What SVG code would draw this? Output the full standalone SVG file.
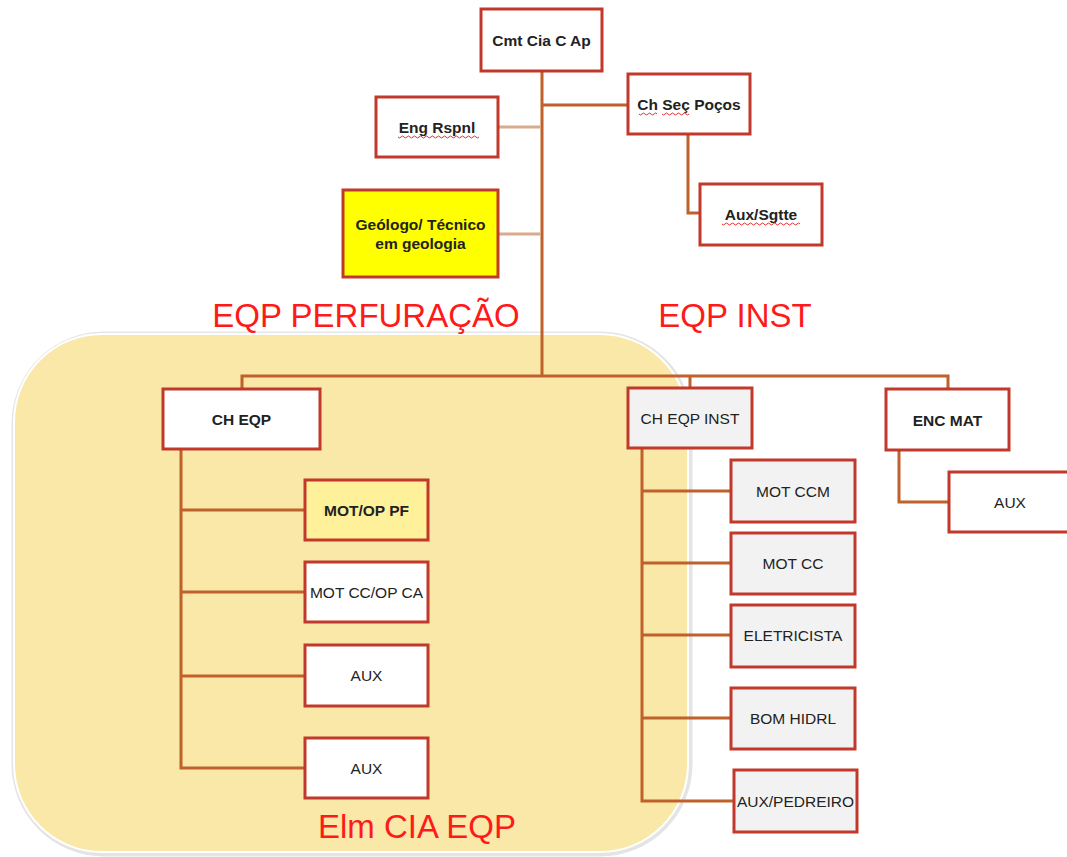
<svg xmlns="http://www.w3.org/2000/svg" width="1067" height="857" viewBox="0 0 1067 857">
<style>
.box{fill:#ffffff;stroke:#C0392B;stroke-width:3}
.gray{fill:#F2F2F2}
.t{font-family:"Liberation Sans",Arial,sans-serif;font-size:15.5px;fill:#222;text-anchor:middle}
.b{font-weight:bold}
.big{font-family:"Liberation Sans",Arial,sans-serif;font-size:33px;fill:#FF1A1A;text-anchor:middle}
.c{fill:none;stroke:#C0612B;stroke-width:3}
.lc{fill:none;stroke:#D9AB8C;stroke-width:3}
.w{fill:none;stroke:#E03030;stroke-width:1}
</style>
<rect width="1067" height="857" fill="#ffffff"/>
<g id="region">
<rect x="14" y="334" width="676" height="520" rx="90" ry="90" fill="none" stroke="#E4E4E4" stroke-width="5"/>
<rect x="14" y="334" width="674" height="518" rx="88" ry="88" fill="#F9E8A7" stroke="#ffffff" stroke-width="2"/>
</g>
<g id="labels">
<text class="big" x="366" y="327">EQP PERFURAÇÃO</text>
<text class="big" x="735" y="327">EQP INST</text>
<text class="big" x="417" y="838">Elm CIA EQP</text>
</g>
<g id="connectors">
<path class="c" d="M542 71 V376"/>
<path class="c" d="M542 105 H628"/>
<path class="lc" d="M498 127 H541"/>
<path class="lc" d="M498 234 H541"/>
<path class="c" d="M688 134 V213 H700"/>
<path class="c" d="M242 389 V376 H948 V389"/>
<path class="c" d="M690 376 V388"/>
<path class="c" d="M181 449 V768 H305"/>
<path class="c" d="M181 510 H305"/>
<path class="c" d="M181 592 H305"/>
<path class="c" d="M181 676 H305"/>
<path class="c" d="M642 448 V801 H734"/>
<path class="c" d="M642 491 H731"/>
<path class="c" d="M642 563 H731"/>
<path class="c" d="M642 635 H731"/>
<path class="c" d="M642 718 H731"/>
<path class="c" d="M899 450 V502 H949"/>
</g>
<g id="n-cmt"><rect class="box" x="481" y="9" width="121" height="62"/><text class="t b" x="541.5" y="46">Cmt Cia C Ap</text></g>
<g id="n-chsec"><rect class="box" x="628" y="74" width="122" height="60"/><text class="t b" x="689" y="110">Ch Seç Poços</text>
<path class="w" d="M639 114 q1.5 2 3 0 t3 0 t3 0 t3 0 t3 0 t3 0 M662 114 q1.5 2 3 0 t3 0 t3 0 t3 0 t3 0 t3 0 t3 0 t3 0 t3 0"/></g>
<g id="n-eng"><rect class="box" x="376" y="97" width="122" height="60"/><text class="t b" x="437" y="133">Eng Rspnl</text>
<path class="w" d="M398 137 q1.5 2 3 0 t3 0 t3 0 t3 0 t3 0 t3 0 t3 0 t3 0 t3 0 t3 0 t3 0 t3 0 t3 0 t3 0 t3 0 t3 0 t3 0 t3 0 t3 0 t3 0 t3 0 t3 0 t3 0 t3 0 t3 0 t3 0 t3 0"/></g>
<g id="n-geo"><rect x="343" y="190" width="155" height="87" fill="#FFFF00" stroke="#C0392B" stroke-width="3"/><text class="t b" x="420.5" y="230">Geólogo/ Técnico</text><text class="t b" x="420.5" y="249">em geologia</text></g>
<g id="n-aux-sgtte"><rect class="box" x="700" y="184" width="122" height="61"/><text class="t b" x="761" y="220">Aux/Sgtte</text>
<path class="w" d="M722 224 q1.5 2 3 0 t3 0 t3 0 t3 0 t3 0 t3 0 t3 0 t3 0 t3 0 t3 0 t3 0 t3 0 t3 0 t3 0 t3 0 t3 0 t3 0 t3 0 t3 0 t3 0 t3 0 t3 0 t3 0 t3 0 t3 0 t3 0"/></g>
<g id="n-cheqp"><rect class="box" x="163" y="389" width="157" height="60"/><text class="t b" x="241.5" y="425">CH EQP</text></g>
<g id="n-motoppf"><rect x="305" y="480" width="123" height="60" fill="#FFF09A" stroke="#C0392B" stroke-width="3"/><text class="t b" x="366.5" y="516">MOT/OP PF</text></g>
<g id="n-motccopca"><rect class="box" x="305" y="562" width="123" height="60"/><text class="t" x="366.5" y="598">MOT CC/OP CA</text></g>
<g id="n-aux1"><rect class="box" x="305" y="645" width="123" height="61"/><text class="t" x="366.5" y="681">AUX</text></g>
<g id="n-aux2"><rect class="box" x="305" y="738" width="123" height="60"/><text class="t" x="366.5" y="774">AUX</text></g>
<g id="n-cheqpinst"><rect class="box gray" x="628" y="388" width="124" height="60"/><text class="t" x="690" y="424">CH EQP INST</text></g>
<g id="n-encmat"><rect class="box" x="886" y="389" width="123" height="61"/><text class="t b" x="947.5" y="426">ENC MAT</text></g>
<g id="n-aux-r"><rect class="box" x="949" y="472" width="122" height="60"/><text class="t" x="1010" y="508">AUX</text></g>
<g id="n-motccm"><rect class="box gray" x="731" y="460" width="124" height="62"/><text class="t" x="793" y="497">MOT CCM</text></g>
<g id="n-motcc"><rect class="box gray" x="731" y="533" width="124" height="61"/><text class="t" x="793" y="569">MOT CC</text></g>
<g id="n-eletr"><rect class="box gray" x="731" y="605" width="124" height="62"/><text class="t" x="793" y="641">ELETRICISTA</text></g>
<g id="n-bom"><rect class="box gray" x="731" y="688" width="124" height="61"/><text class="t" x="793" y="724">BOM HIDRL</text></g>
<g id="n-auxped"><rect class="box gray" x="734" y="770" width="123" height="62"/><text class="t" x="795.5" y="807">AUX/PEDREIRO</text></g>
</svg>
